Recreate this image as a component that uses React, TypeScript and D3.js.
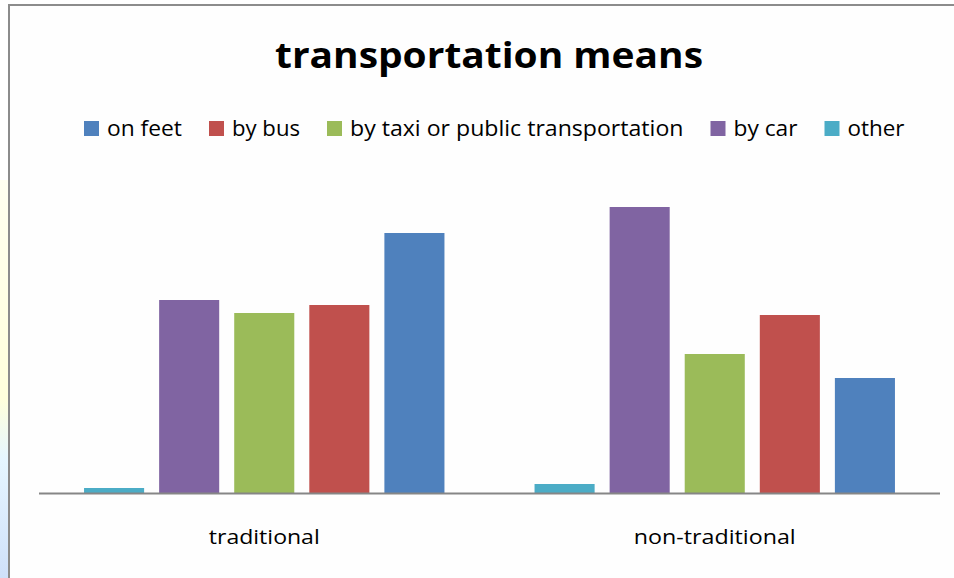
import React from "react";
import * as d3 from "d3";

const categories = ["traditional", "non-traditional"];
// bar order within each group (left to right)
const barSeries = ["other", "by car", "by taxi or public transportation", "by bus", "on feet"];
// legend order
const legendSeries = ["on feet", "by bus", "by taxi or public transportation", "by car", "other"];
const seriesColors: Record<string, string> = {
  "on feet": "#4F81BD",
  "by bus": "#C0504D",
  "by taxi or public transportation": "#9BBB59",
  "by car": "#8064A2",
  "other": "#4BACC6",
};
const traditionalValues = [0.5, 19.3, 18.0, 18.8, 26.0];
const nonTraditionalValues = [0.9, 28.6, 13.9, 17.8, 11.5];
const legendWidths = [75, 68, 333.5, 64, 57];
const categoryLabelWidths = [111, 162];

const W = 954;
const H = 578;

export default function App() {
  const values = [traditionalValues, nonTraditionalValues];
  const x0 = d3.scaleBand<string>().domain(categories).range([39, 940]).paddingInner(0).paddingOuter(0);
  const x1 = d3
    .scaleBand<string>()
    .domain(barSeries)
    .range([0, x0.bandwidth()])
    .paddingInner(0.2)
    .paddingOuter(0.6);
  const y = d3.scaleLinear().domain([0, 30]).range([493, 193]);

  let lx = 84;
  const legendItems = legendSeries.map((s, i) => {
    const item = { s, x: lx, w: legendWidths[i] };
    lx += 23 + legendWidths[i] + 27;
    return item;
  });

  const font = "'Open Sans', 'DejaVu Sans', sans-serif";

  return (
    <svg
      width={W}
      height={H}
      style={{ position: "absolute", left: 0, top: 0, display: "block", background: "#fff" }}
      fontFamily={font}
    >
      <defs>
        <linearGradient id="sideGrad" x1="0" y1="0" x2="0" y2="1">
          <stop offset="0" stopColor="#fffff0" />
          <stop offset="0.55" stopColor="#ffffdc" />
          <stop offset="0.7" stopColor="#e6f6ff" />
          <stop offset="1" stopColor="#cfe0fa" />
        </linearGradient>
      </defs>
      <rect x={0} y={180} width={8} height={H - 180} fill="url(#sideGrad)" />
      <rect x={9} y={5} width={W + 20} height={H + 20} fill="#fefefe" stroke="#8c8c8c" strokeWidth={2} />

      <text
        x={489}
        y={68}
        textAnchor="middle"
        fontSize={36}
        fontWeight="bold"
        fill="#000"
        textLength={428}
        lengthAdjust="spacingAndGlyphs"
      >
        transportation means
      </text>

      {legendItems.map((it) => (
        <g key={it.s}>
          <rect x={it.x} y={121} width={15} height={15} fill={seriesColors[it.s]} />
          <text
            x={it.x + 23}
            y={136}
            fontSize={22}
            fill="#000"
            textLength={it.w}
            lengthAdjust="spacingAndGlyphs"
          >
            {it.s}
          </text>
        </g>
      ))}

      {categories.map((c, ci) => (
        <g key={c} transform={`translate(${x0(c)},0)`}>
          {barSeries.map((s, si) => (
            <rect
              key={s}
              x={x1(s)}
              y={y(values[ci][si])}
              width={x1.bandwidth()}
              height={y(0) - y(values[ci][si])}
              fill={seriesColors[s]}
            />
          ))}
        </g>
      ))}

      <line x1={39} x2={940} y1={y(0) + 0.5} y2={y(0) + 0.5} stroke="#868686" strokeWidth={2} />

      {categories.map((c, ci) => (
        <text
          key={c}
          x={(x0(c) as number) + x0.bandwidth() / 2}
          y={544}
          textAnchor="middle"
          fontSize={20}
          fill="#000"
          textLength={categoryLabelWidths[ci]}
          lengthAdjust="spacingAndGlyphs"
        >
          {c}
        </text>
      ))}
    </svg>
  );
}
